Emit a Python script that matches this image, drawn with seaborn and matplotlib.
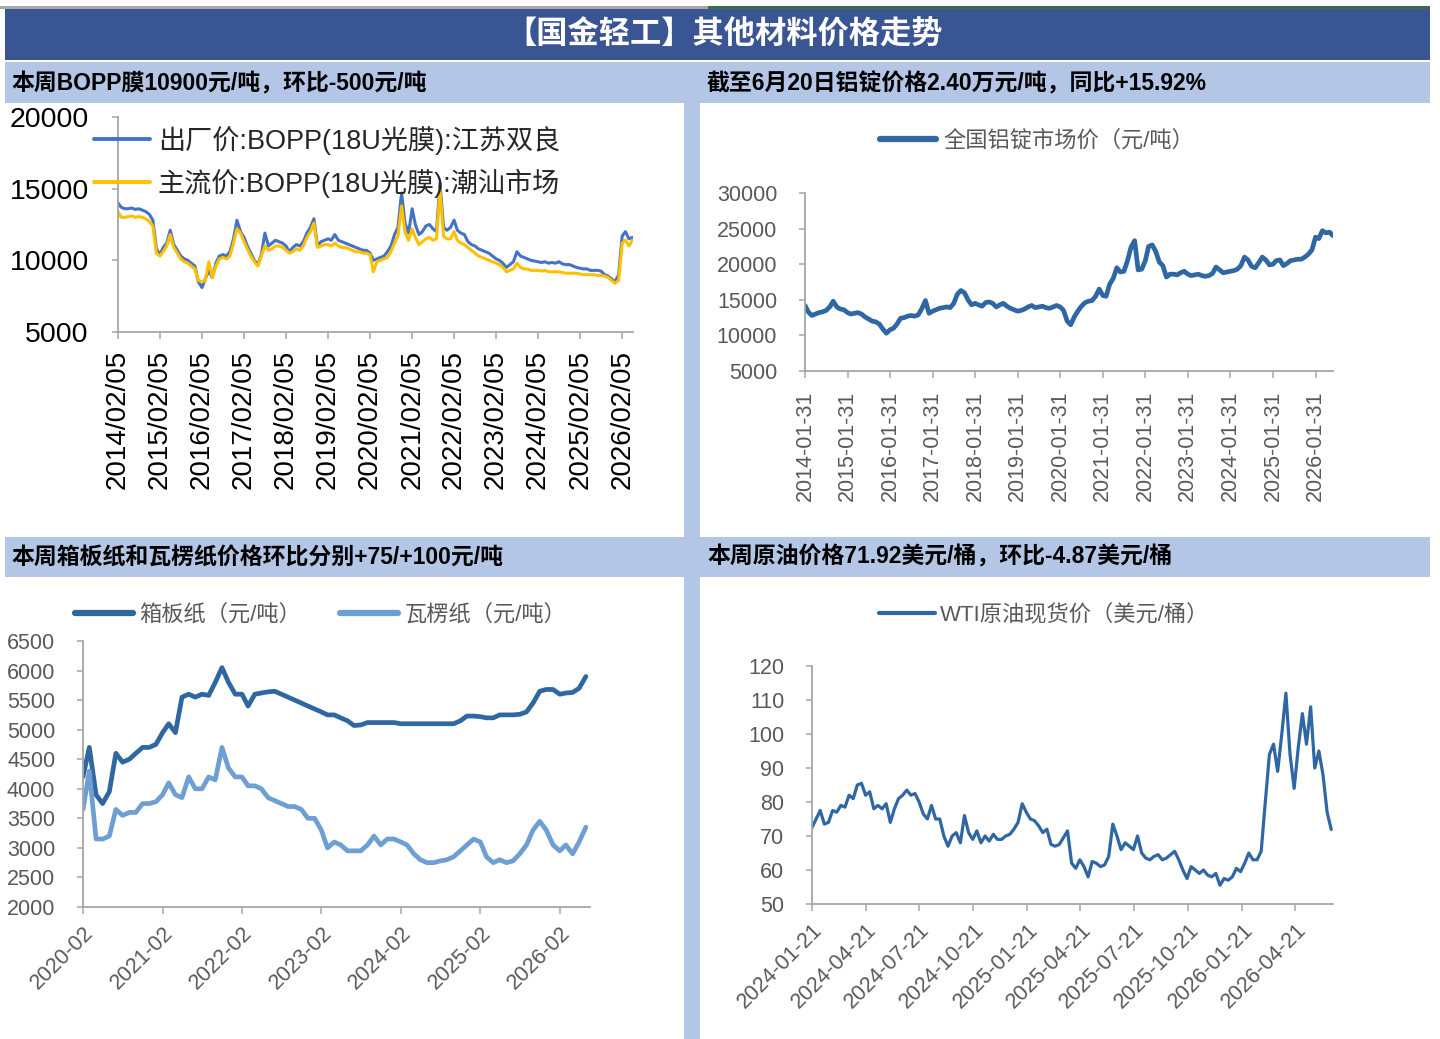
import pandas as pd
import matplotlib
matplotlib.use('Agg')
import matplotlib.pyplot as plt
from matplotlib.lines import Line2D
from matplotlib.patches import Rectangle
import seaborn as sns

# ---------------- data ----------------
# BOPP film prices, monthly from 2014-02
bopp_jiangsu = [
    14000, 13700, 13600, 13600, 13650, 13550, 13600, 13500, 13400, 13200, 12800,
    10800, 10400, 10900, 11200, 12100, 11100, 10700, 10300, 10100, 10000, 9800, 9600,
    8500, 8100, 8700, 9300, 8800, 9800, 10300, 10400, 10300, 10600, 11500, 12800,
    12000, 11600, 11000, 10500, 10000, 9700, 10400, 11900, 11000, 11200, 11400, 11300,
    11200, 11000, 10600, 10900, 11100, 11000, 11300, 11900, 12300, 12900, 11000, 11300,
    11400, 11500, 11400, 11800, 11400, 11300, 11200, 11100, 11000, 10900, 10800, 10700,
    10700, 10500, 10000, 10100, 10200, 10300, 10600, 11000, 11800, 12300, 14700, 12600,
    11900, 13600, 12500, 11800, 12000, 12400, 12500, 12200, 12000, 15400, 12300, 12100,
    12300, 12800, 12100, 11900, 11800, 11300, 11100, 11000, 10800, 10700, 10600, 10500,
    10300, 10100, 10000, 9800, 9500, 9700, 9900, 10600, 10300, 10200, 10100, 10000,
    9950, 9900, 9850, 9900, 9800, 9850, 9800, 9900, 9750, 9700, 9700, 9600,
    9500, 9450, 9400, 9400, 9300, 9300, 9300, 9250, 9000, 8900, 8700, 8500,
    9000, 11700, 12000, 11500, 11600]
bopp_chaoshan = [
    13400, 13000, 13000, 13050, 13100, 13000, 13050, 13000, 12900, 12700, 12400,
    10500, 10300, 10600, 11000, 11800, 10900, 10500, 10100, 9900, 9800, 9600, 9400,
    8600, 8500, 8600, 9900, 8800, 9600, 10100, 10200, 10100, 10300, 11200, 12200,
    11900, 11300, 10800, 10300, 9900, 9600, 10300, 11000, 10700, 10800, 11000, 11000,
    10900, 10700, 10500, 10600, 10800, 10700, 11000, 11600, 12000, 12600, 10900, 11000,
    11100, 11100, 11000, 11200, 11000, 10900, 10900, 10800, 10700, 10600, 10600, 10500,
    10500, 10400, 9200, 9900, 10000, 10100, 10200, 10600, 11200, 11700, 13800, 12000,
    11400, 12200, 11600, 11100, 11300, 11500, 11600, 11400, 11500, 15000, 11700, 11500,
    11500, 12000, 11400, 11200, 11100, 10900, 10700, 10500, 10300, 10200, 10100, 10000,
    9900, 9800, 9700, 9500, 9200, 9300, 9400, 9800, 9500, 9400, 9400, 9300,
    9300, 9300, 9250, 9300, 9200, 9200, 9200, 9200, 9150, 9100, 9100, 9100,
    9100, 9050, 9000, 9000, 9000, 9000, 8950, 8950, 8900, 8800, 8600, 8400,
    8600, 11200, 11400, 11000, 11400]
bopp_names = ['出厂价:BOPP(18U光膜):江苏双良', '主流价:BOPP(18U光膜):潮汕市场']
bopp_ticks = ['2014/02/05', '2015/02/05', '2016/02/05', '2017/02/05', '2018/02/05',
              '2019/02/05', '2020/02/05', '2021/02/05', '2022/02/05', '2023/02/05',
              '2024/02/05', '2025/02/05', '2026/02/05']

# Aluminium ingot, monthly from 2014-01
alu_price = [
    14200, 13300, 12800, 13000, 13200, 13300, 13500, 14000, 14800, 14000, 13700, 13600,
    13200, 13000, 13100, 13200, 13000, 12600, 12300, 12000, 11900, 11600, 10900, 10300,
    10800, 11000, 11600, 12400, 12500, 12700, 12800, 12700, 12900, 13800, 14900, 13100,
    13400, 13600, 13800, 13900, 14000, 13900, 14500, 15800, 16300, 16000, 15000, 14300,
    14500, 14300, 14100, 14600, 14700, 14500, 14000, 14300, 14500, 14100, 13800, 13600,
    13400, 13500, 13700, 14000, 14200, 13900, 14000, 14100, 13900, 13800, 14000, 14200,
    14000, 13500, 12000, 11500, 12600, 13400, 14100, 14600, 14800, 14900, 15500, 16500,
    15600, 15500, 17200, 18000, 19500, 18900, 19000, 20500, 22400, 23300, 19200, 19300,
    20500, 22500, 22700, 21800, 20300, 19800, 18200, 18600, 18600, 18500, 18800, 19000,
    18600, 18400, 18500, 18600, 18400, 18300, 18400, 18700, 19600, 19200, 18800, 18900,
    19000, 19100, 19300, 19800, 21000, 20600, 19700, 19500, 20200, 21000, 20600, 19900,
    20000, 20500, 20600, 19800, 20100, 20500, 20600, 20700, 20700, 21000, 21400, 22000,
    23800, 23600, 24700, 24400, 24500, 24000]
alu_name = '全国铝锭市场价（元/吨）'
alu_ticks = ['2014-01-31', '2015-01-31', '2016-01-31', '2017-01-31', '2018-01-31',
             '2019-01-31', '2020-01-31', '2021-01-31', '2022-01-31', '2023-01-31',
             '2024-01-31', '2025-01-31', '2026-01-31']

# Containerboard / corrugating paper, monthly from 2020-02
boxboard = [
    4200, 4700, 3900, 3750, 3950, 4600, 4450, 4500, 4600, 4700, 4700,
    4750, 4950, 5100, 4950, 5550, 5600, 5550, 5600, 5580, 5800, 6050, 5800,
    5600, 5600, 5400, 5600, 5620, 5640, 5650, 5600, 5550, 5500, 5450, 5400,
    5350, 5300, 5250, 5250, 5200, 5150, 5070, 5080, 5120, 5120, 5120, 5120,
    5120, 5100, 5100, 5100, 5100, 5100, 5100, 5100, 5100, 5100, 5150, 5230,
    5230, 5220, 5200, 5200, 5250, 5250, 5250, 5260, 5300, 5450, 5650, 5680,
    5680, 5600, 5620, 5630, 5700, 5900]
corrugated = [
    3650, 4300, 3150, 3150, 3200, 3650, 3550, 3600, 3600, 3750, 3750,
    3780, 3900, 4100, 3900, 3850, 4200, 4000, 4000, 4200, 4150, 4700, 4350,
    4200, 4200, 4050, 4050, 4000, 3850, 3800, 3750, 3700, 3700, 3650, 3500,
    3500, 3300, 3000, 3100, 3050, 2950, 2950, 2950, 3050, 3200, 3050, 3150,
    3150, 3100, 3050, 2900, 2800, 2750, 2750, 2780, 2800, 2850, 2950, 3050,
    3150, 3100, 2850, 2750, 2800, 2750, 2780, 2900, 3050, 3300, 3450, 3300,
    3050, 2950, 3050, 2900, 3100, 3350]
paper_names = ['箱板纸（元/吨）', '瓦楞纸（元/吨）']
paper_ticks = ['2020-02', '2021-02', '2022-02', '2023-02', '2024-02', '2025-02', '2026-02']

# WTI crude spot, weekly from 2024-01-21
wti_price = [
    72.5, 75, 77.5, 73.5, 74, 77.5, 77, 79, 78.5, 82, 81, 85, 85.5, 82, 83, 78, 79, 78, 79.5, 74,
    78, 81, 82, 83.5, 82, 82.5, 80, 76.5, 75, 79, 75, 75, 70, 67, 70, 71, 68, 76, 71, 69,
    71.5, 68, 70, 68.5, 70.5, 69, 69, 70, 70.5, 72, 74, 79.5, 77, 75, 74.5, 73, 71, 72, 67.5, 67,
    67.5, 69.5, 71.5, 62, 60.5, 63, 61, 58, 62.5, 62, 61, 61.5, 64, 73.5, 70, 66, 68, 67, 66, 70,
    65, 63.5, 63, 64, 64.5, 63, 63.5, 64.5, 65.5, 63, 60, 57.5, 61, 60, 59, 60, 58.5, 58, 59, 55.5,
    57.5, 57, 58, 60.5, 59.5, 62, 65, 63, 63, 65.5, 80, 94, 97, 89, 100, 112, 94, 84, 96, 106,
    97, 108, 90, 95, 88, 77, 71.92]
wti_name = 'WTI原油现货价（美元/桶）'
wti_ticks = ['2024-01-21', '2024-04-21', '2024-07-21', '2024-10-21', '2025-01-21',
             '2025-04-21', '2025-07-21', '2025-10-21', '2026-01-21', '2026-04-21']

title_text = '【国金轻工】其他材料价格走势'
headers = ['本周BOPP膜10900元/吨，环比-500元/吨',
           '截至6月20日铝锭价格2.40万元/吨，同比+15.92%',
           '本周箱板纸和瓦楞纸价格环比分别+75/+100元/吨',
           '本周原油价格71.92美元/桶，环比-4.87美元/桶']

# ---------------- style ----------------
sns.set_theme(style='white')
plt.rcParams['font.family'] = ['Liberation Sans', 'Noto Sans CJK SC', 'DejaVu Sans']
plt.rcParams['axes.unicode_minus'] = False

W, H = 1440, 1039
fig = plt.figure(figsize=(W / 100, H / 100), dpi=100)
fig.patch.set_facecolor('white')

DARK = '#3A5593'
LIGHT = '#B4C6E6'
SPINE = '#A6A6A6'
GREY_TXT = '#595959'

bg = fig.add_axes([0, 0, 1, 1], zorder=0)
bg.set_xlim(0, W)
bg.set_ylim(H, 0)
bg.axis('off')
bg.add_patch(Rectangle((0, 6), 708, 2.5, color='#A8A8A8', lw=0))
bg.add_patch(Rectangle((708, 6), 722, 2.5, color='#3E6B4B', lw=0))
bg.add_patch(Rectangle((5, 9), 1425, 51, color=DARK, lw=0))
bg.add_patch(Rectangle((5, 62), 1425, 41, color=LIGHT, lw=0))
bg.add_patch(Rectangle((684, 103), 16, H - 103, color=LIGHT, lw=0))
bg.add_patch(Rectangle((5, 537), 1425, 40, color=LIGHT, lw=0))
bg.text(724, 35, title_text, color='white', fontsize=22.5, fontweight='bold',
        ha='center', va='center')
bg.text(11, 84, headers[0], fontsize=16.5, fontweight='bold', va='center', color='black')
bg.text(707, 84, headers[1], fontsize=16.5, fontweight='bold', va='center', color='black')
bg.text(11, 557, headers[2], fontsize=16.5, fontweight='bold', va='center', color='black')
bg.text(707, 557, headers[3], fontsize=16.5, fontweight='bold', va='center', color='black')


def box(l, t, r, b):
    return [l / W, 1 - b / H, (r - l) / W, (b - t) / H]


def style_axes(ax, labelcolor, xsize, ysize, ypad, xpad):
    ax.set_facecolor('none')
    for s in ['top', 'right']:
        ax.spines[s].set_visible(False)
    for s in ['left', 'bottom']:
        ax.spines[s].set_color(SPINE)
        ax.spines[s].set_linewidth(1.3)
    ax.tick_params(axis='x', bottom=True, direction='out', length=5, width=1.1,
                   color=SPINE, labelsize=xsize, labelcolor=labelcolor, pad=xpad)
    ax.tick_params(axis='y', left=True, direction='out', length=4, width=1.1,
                   color=SPINE, labelsize=ysize, labelcolor=labelcolor, pad=ypad)
    ax.set_xlabel('')
    ax.set_ylabel('')
    ax.grid(False)


# ---------------- panel 1: BOPP ----------------
ax1 = fig.add_axes(box(118, 117, 633, 332), zorder=2)
bopp_dates = pd.date_range('2014-02-05', periods=len(bopp_jiangsu), freq=pd.DateOffset(months=1))
df1 = pd.concat([
    pd.DataFrame({'date': bopp_dates, 'price': bopp_jiangsu, 'series': bopp_names[0]}),
    pd.DataFrame({'date': bopp_dates, 'price': bopp_chaoshan, 'series': bopp_names[1]}),
])
bopp_colors = ['#4472C4', '#FFC000']
sns.lineplot(data=df1, x='date', y='price', hue='series', hue_order=bopp_names,
             palette=bopp_colors, linewidth=2.2, legend=False, ax=ax1)
ax1.set_xlim(pd.Timestamp('2014-02-05'), pd.Timestamp('2026-05-10'))
ax1.set_ylim(5000, 20000)
ax1.set_yticks([5000, 10000, 15000, 20000])
ax1.set_xticks(pd.to_datetime(bopp_ticks, format='%Y/%m/%d'), labels=bopp_ticks, rotation=90)
style_axes(ax1, 'black', 20, 20.5, 17, 8)
h1 = [Line2D([], [], color=c, lw=2.8) for c in bopp_colors]
ax1.legend(h1, bopp_names, loc='upper left', bbox_to_anchor=(94 / W, 1 - 126 / H),
           bbox_transform=fig.transFigure, frameon=False, fontsize=19.5,
           handlelength=2.05, handletextpad=0.3, labelspacing=0.5,
           borderaxespad=0, borderpad=0)

# ---------------- panel 2: aluminium ----------------
ax2 = fig.add_axes(box(805, 193, 1333, 371), zorder=2)
alu_dates = pd.date_range('2014-01-31', periods=len(alu_price), freq='ME')
df2 = pd.DataFrame({'date': alu_dates, 'price': alu_price})
alu_color = '#2E67A3'
sns.lineplot(data=df2, x='date', y='price', color=alu_color, linewidth=3.4, ax=ax2)
ax2.set_xlim(pd.Timestamp('2014-01-31'), pd.Timestamp('2026-06-30'))
ax2.set_ylim(5000, 30000)
ax2.set_yticks([5000, 10000, 15000, 20000, 25000, 30000])
ax2.set_xticks(pd.to_datetime(alu_ticks), labels=alu_ticks, rotation=90)
style_axes(ax2, GREY_TXT, 15.5, 15.5, 16, 9)
h2 = [Line2D([], [], color=alu_color, lw=4.5)]
ax2.legend(h2, [alu_name], loc='upper left', bbox_to_anchor=(880 / W, 1 - 130 / H),
           bbox_transform=fig.transFigure, frameon=False, fontsize=16, labelcolor=GREY_TXT,
           handlelength=2.5, handletextpad=0.35, borderaxespad=0, borderpad=0)

# ---------------- panel 3: paper ----------------
ax3 = fig.add_axes(box(83, 641, 590, 907), zorder=2)
paper_dates = pd.date_range('2020-02-01', periods=len(boxboard), freq='MS')
df3 = pd.concat([
    pd.DataFrame({'date': paper_dates, 'price': boxboard, 'series': paper_names[0]}),
    pd.DataFrame({'date': paper_dates, 'price': corrugated, 'series': paper_names[1]}),
])
paper_colors = ['#2F67A0', '#6E9FD3']
sns.lineplot(data=df3, x='date', y='price', hue='series', hue_order=paper_names,
             palette=paper_colors, linewidth=3.4, legend=False, ax=ax3)
ax3.set_xlim(pd.Timestamp('2020-02-01'), pd.Timestamp('2026-06-20'))
ax3.set_ylim(2000, 6500)
ax3.set_yticks(range(2000, 6501, 500))
ax3.set_xticks(pd.to_datetime(paper_ticks, format='%Y-%m'), labels=paper_ticks,
               rotation=45, ha='right', rotation_mode='anchor')
style_axes(ax3, GREY_TXT, 15.5, 15.5, 16, 6)
h3 = [Line2D([], [], color=c, lw=4.5) for c in paper_colors]
ax3.legend(h3, paper_names, loc='upper left', bbox_to_anchor=(75 / W, 1 - 604 / H),
           bbox_transform=fig.transFigure, frameon=False, fontsize=16, labelcolor=GREY_TXT,
           ncol=2, handlelength=2.6, handletextpad=0.3, columnspacing=1.75,
           borderaxespad=0, borderpad=0)

# ---------------- panel 4: WTI ----------------
ax4 = fig.add_axes(box(812, 666, 1333, 904), zorder=2)
wti_dates = pd.date_range('2024-01-21', periods=len(wti_price), freq='7D')
df4 = pd.DataFrame({'date': wti_dates, 'price': wti_price})
wti_color = '#2E67A3'
sns.lineplot(data=df4, x='date', y='price', color=wti_color, linewidth=2.3, ax=ax4)
ax4.set_xlim(pd.Timestamp('2024-01-21'), pd.Timestamp('2026-06-24'))
ax4.set_ylim(50, 120)
ax4.set_yticks(range(50, 121, 10))
ax4.set_xticks(pd.to_datetime(wti_ticks), labels=wti_ticks,
               rotation=45, ha='right', rotation_mode='anchor')
style_axes(ax4, GREY_TXT, 15.5, 15.5, 16, 6)
h4 = [Line2D([], [], color=wti_color, lw=3.0)]
ax4.legend(h4, [wti_name], loc='upper left', bbox_to_anchor=(879 / W, 1 - 604 / H),
           bbox_transform=fig.transFigure, frameon=False, fontsize=16, labelcolor=GREY_TXT,
           handlelength=2.5, handletextpad=0.25, borderaxespad=0, borderpad=0)

fig.savefig('out.png', dpi=100, facecolor='white')
